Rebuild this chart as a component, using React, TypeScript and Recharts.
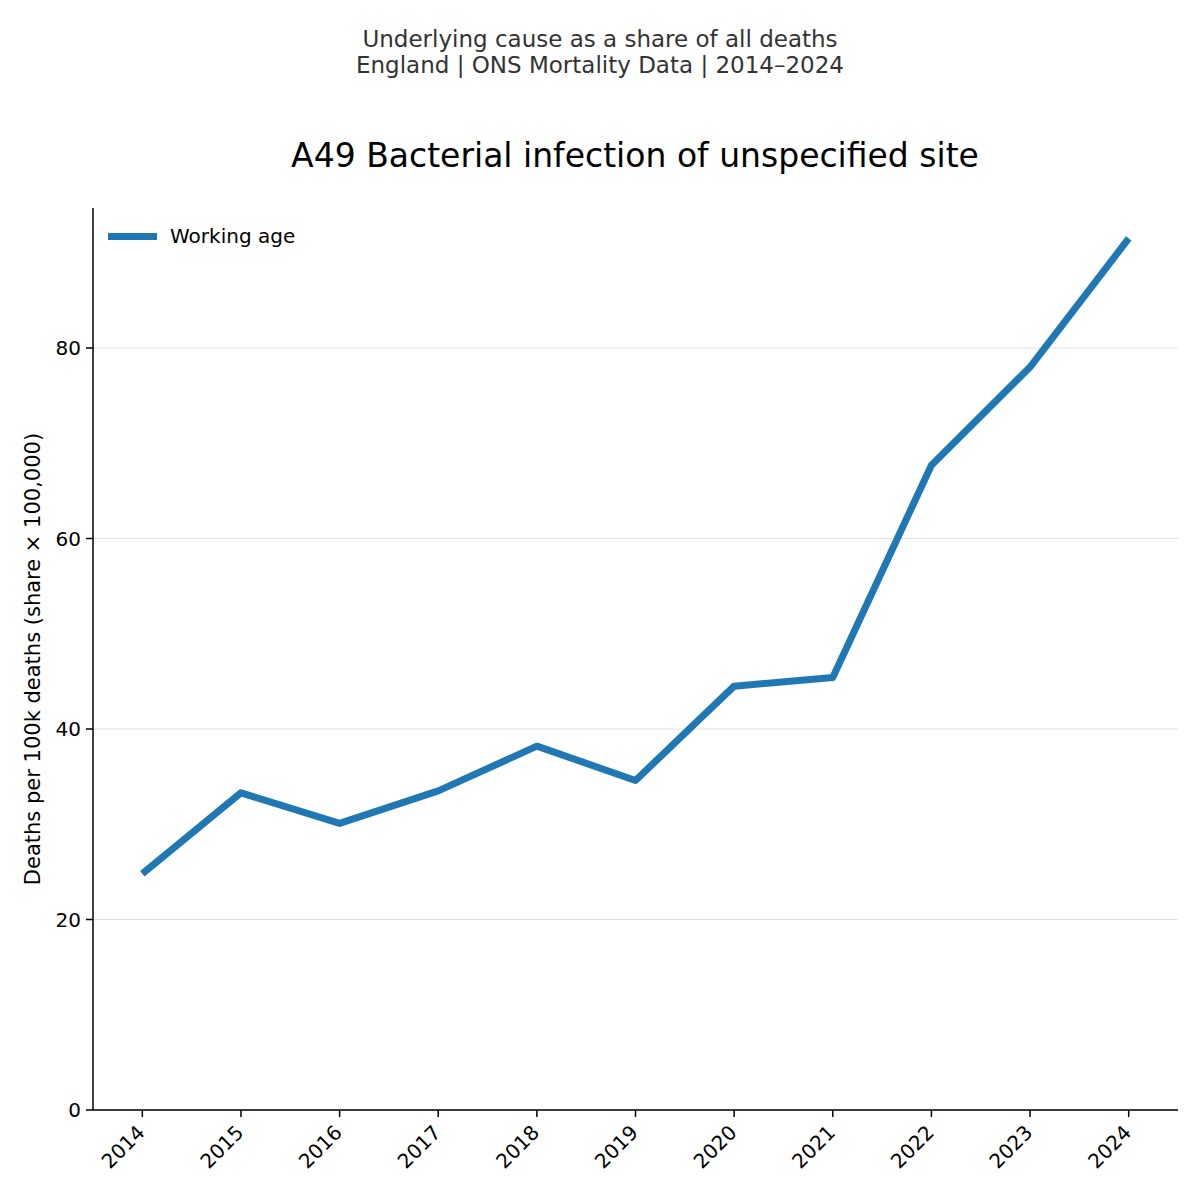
import React from 'react';
import { LineChart, Line, CartesianGrid, XAxis, YAxis } from 'recharts';

const YEARS = [2014, 2015, 2016, 2017, 2018, 2019, 2020, 2021, 2022, 2023, 2024];
const WORKING_AGE = [24.8, 33.3, 30.1, 33.5, 38.2, 34.6, 44.5, 45.4, 67.7, 78.0, 91.5];
const Y_TICKS = [0, 20, 40, 60, 80];

const data = YEARS.map((year, i) => ({ year, workingAge: WORKING_AGE[i] }));

const FONT = '"DejaVu Sans", sans-serif';

const XTick = (props: any) => {
  const { x, y, payload } = props;
  return (
    <g transform={`translate(${x - 7},${y + 4})`}>
      <text
        x={0}
        y={0}
        textAnchor="end"
        transform="rotate(-45)"
        fontSize={20}
        fontFamily={FONT}
        fill="#000"
        dominantBaseline="hanging"
      >
        {payload.value}
      </text>
    </g>
  );
};

export default function App() {
  return (
    <div style={{ position: 'absolute', left: 0, top: 0, width: 1200, height: 1200, background: '#fff', fontFamily: FONT }}>
      <div style={{ position: 'absolute', top: 26, width: 1200, textAlign: 'center', fontSize: 23, lineHeight: '26px', color: '#333' }}>
        <div>Underlying cause as a share of all deaths</div>
        <div>England | ONS Mortality Data | 2014–2024</div>
      </div>
      <div style={{ position: 'absolute', top: 136, width: 1270, textAlign: 'center', fontSize: 33, lineHeight: '40px', color: '#000' }}>
        A49 Bacterial infection of unspecified site
      </div>
      <div
        style={{
          position: 'absolute',
          left: 33,
          top: 659,
          transform: 'translate(-50%, -50%) rotate(-90deg)',
          whiteSpace: 'nowrap',
          fontSize: 21,
          color: '#000',
        }}
      >
        Deaths per 100k deaths (share × 100,000)
      </div>
      <LineChart
        width={1200}
        height={1200}
        data={data}
        margin={{ top: 208, right: 22, bottom: 0, left: 0 }}
        style={{ position: 'absolute', left: 0, top: 0 }}
      >
        <CartesianGrid horizontal vertical={false} horizontalValues={Y_TICKS} stroke="#e0e0e0" strokeWidth={1} />
        <XAxis
          type="number"
          dataKey="year"
          domain={[2013.5, 2024.5]}
          ticks={YEARS}
          interval={0}
          tick={<XTick />}
          tickSize={7}
          tickLine={{ stroke: '#000', strokeWidth: 1.5 }}
          axisLine={{ stroke: '#000', strokeWidth: 1.5 }}
          height={90}
        />
        <YAxis
          type="number"
          domain={[0, 94.7]}
          ticks={Y_TICKS}
          interval={0}
          width={93}
          tickSize={7}
          tickMargin={5}
          tick={{ fontSize: 20, fill: '#000', fontFamily: FONT }}
          tickLine={{ stroke: '#000', strokeWidth: 1.5 }}
          axisLine={{ stroke: '#000', strokeWidth: 1.5 }}
        />
        <Line
          type="linear"
          dataKey="workingAge"
          name="Working age"
          stroke="#1f77b4"
          strokeWidth={7}
          strokeLinecap="butt"
          strokeLinejoin="round"
          dot={false}
          activeDot={false}
          isAnimationActive={false}
        />
      </LineChart>
      <div style={{ position: 'absolute', left: 108, top: 222, display: 'flex', alignItems: 'center', fontSize: 20, lineHeight: '28px' }}>
        <span style={{ display: 'inline-block', width: 49, height: 7, background: '#1f77b4', marginRight: 13 }} />
        <span>Working age</span>
      </div>
    </div>
  );
}
